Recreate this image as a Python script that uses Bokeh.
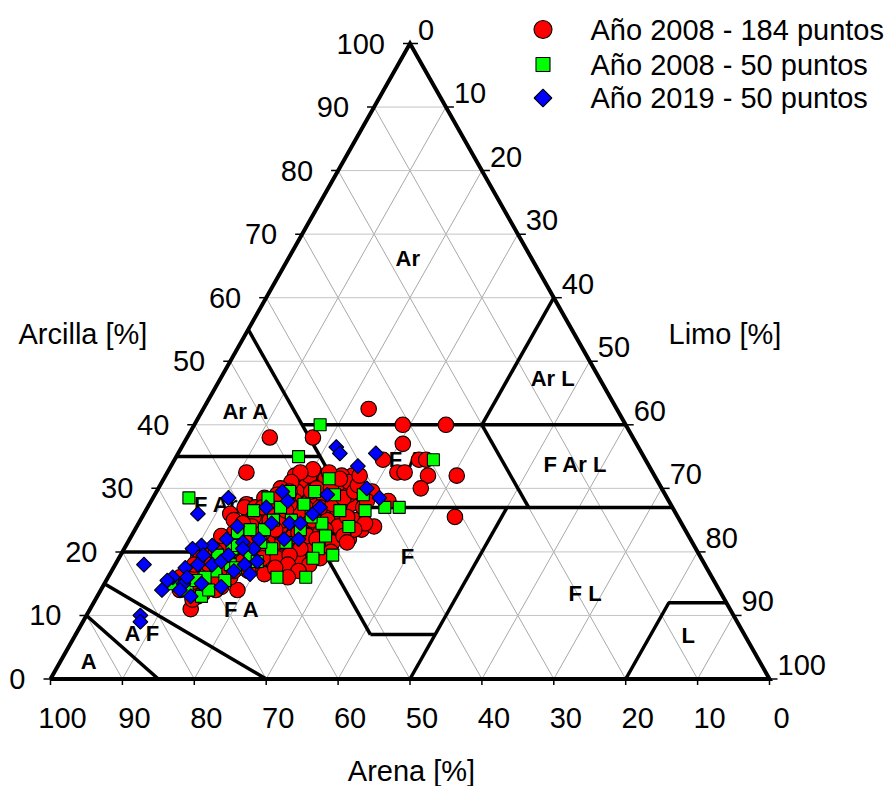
import numpy as np
from bokeh.plotting import figure
from bokeh.models import Range1d
from bokeh.core.properties import value
from bokeh.embed import file_html
from bokeh.resources import INLINE

# ---------------- data (percent sand / percent clay; silt = rest) ----------------
red_sand = [34.5, 31, 25, 50.5, 44.5, 32.5, 36.5, 31.5, 30.5, 35.5, 34.5, 31.5, 27.5, 33.5, 42, 40.5, 39, 31,
            45, 43, 48, 52.5, 56.5, 59, 62, 48.5, 47, 45.5, 43.5, 44, 47, 44.5, 45, 51, 52, 47.5, 49.5, 56.5,
            58.5, 56.5, 47, 45, 52.5, 47.5, 52, 56.5, 57.5, 56, 61.5, 67, 75, 59.5, 53,
            50, 49, 47, 46, 51, 48, 50, 46, 51, 44, 43, 48, 45, 50, 49, 52, 47, 45, 43, 44,
            55, 57, 54, 58, 56, 59, 53, 55, 58, 54, 56, 59, 57, 55, 53, 58, 52, 53, 56, 59, 54, 56, 57, 60, 60,
            61, 63, 62, 61, 64, 63, 62, 64, 65, 66, 67, 65, 66, 64, 68, 67, 62, 61, 63, 65,
            68, 70, 69, 71, 72, 70, 73, 74, 69, 72, 71, 73, 75, 70, 74,
            51, 52, 53, 50, 49, 48, 56, 55, 54, 53, 51, 50, 49, 47, 46, 55, 57, 58, 60, 61, 57, 59, 54, 52, 50,
            48, 46, 44, 47, 49, 51, 53, 54, 52, 45, 43, 42, 41, 42, 46, 48, 48, 51, 53, 55, 57, 59, 62, 66, 69, 67]
red_clay = [42.5, 40, 40, 38, 38, 37, 34.5, 34.5, 34.5, 32.5, 32.5, 32, 32, 30, 32, 29.5, 28, 25.5,
            23.5, 24, 22.5, 22, 32.5, 27.5, 26, 31, 32.5, 30.5, 32, 30.5, 30, 27.5, 28.5, 29, 28.5, 26.5, 26.5, 26,
            25.5, 23.5, 25, 24.5, 23, 22, 21.5, 20.5, 18.5, 17.5, 24, 14, 11, 27, 23.5,
            30, 31, 29, 31.5, 29.5, 28, 28, 27.5, 27, 29, 31, 32, 32.5, 32, 29.5, 28, 26, 25, 27, 24.5,
            26, 25, 24.5, 23, 22, 21.5, 26, 22.5, 20.5, 20, 24, 25.5, 21.5, 25, 24, 27, 25, 21, 19, 19, 28, 28.5, 27, 24, 21,
            22.5, 23, 25, 20, 21.5, 19.5, 18, 17, 20, 19, 18, 17.5, 21, 18.5, 19.5, 16, 16.5, 24.5, 21, 22.5,
            17, 16.5, 18, 15.5, 17, 19, 15, 16, 14.5, 13.5, 18, 13, 14, 14, 12.5,
            25, 26.5, 27.5, 26, 25, 24, 27, 28, 26.5, 22.5, 23, 23.5, 27, 27.5, 25.5, 20.5, 19.5, 18, 17.5, 19, 23.5, 23, 23, 22, 21.5,
            30, 30, 31.5, 33, 32.5, 31, 30, 29, 29.5, 28.5, 29.5, 30.5, 32, 28, 23.5, 22.5, 21.5, 20, 19, 18, 17, 16, 21.5, 17, 16, 20]

green_sand = [42.5, 48, 66.5, 29.5, 45.5, 42, 40, 38, 43, 46.5, 50, 55.5, 51, 54.5, 60.5, 62.5, 59, 52.5, 51, 60.5,
              56.5, 54, 66, 72.5, 64.5, 74, 68.5, 65.5, 75.5, 54, 60, 62.5, 67, 70.5, 53.5, 56.5, 58.5, 48.5, 46, 52,
              58.5, 63.5, 68, 71, 72, 46.5, 51, 56.5, 62, 50.5]
green_clay = [40, 35, 28.5, 34.5, 31.5, 29, 27, 27, 26.5, 24, 24.5, 28.5, 27.5, 27, 23.5, 23, 20.5, 20.5, 19.5, 16,
              16, 19, 18, 13, 20.5, 14, 17, 17.5, 15, 25, 21.5, 19.5, 19.5, 16, 23.5, 21.5, 26.5, 29.5, 29, 29.5,
              23.5, 21, 15.5, 14, 15.5, 26.5, 25.5, 25, 18.5, 22.5]

blue_sand = [42, 42, 37, 40.5, 41, 40, 47, 50.5, 53, 53, 61, 66.5, 57, 54.5, 53, 60, 56.5, 54.5, 64.5, 62.5,
             61.5, 67, 68.5, 70, 68.5, 67, 64, 70.5, 72.5, 64, 66, 75, 74, 71.5, 69, 74, 76, 78, 82.5, 83,
             73, 75, 63, 56.5, 62, 65.5, 77.5, 62, 69, 49]
blue_clay = [36.5, 35.5, 35.5, 33.5, 30, 28.5, 29, 26, 29.5, 28, 28.5, 26, 24.5, 24.5, 24.5, 22, 22, 22, 22, 21.5,
             20.5, 21, 21, 20.5, 18, 18.5, 18, 18, 17.5, 16.5, 17, 16, 15, 15, 14.5, 13, 15.5, 18, 10, 9,
             16, 14, 20.5, 27, 24, 19.5, 14, 18.5, 19.5, 27]

series_names = ["Año 2008 - 184 puntos", "Año 2008 - 50 puntos", "Año 2019 - 50 puntos"]

tick_values = [0, 10, 20, 30, 40, 50, 60, 70, 80, 90, 100]
axis_titles = ["Arcilla [%]", "Limo [%]", "Arena [%]"]

# USDA texture class boundaries, as (sand, clay) vertices
boundaries = [
    [(45, 55), (45, 27)],
    [(45, 40), (0, 40)],
    [(20, 40), (0, 60)],
    [(65, 35), (45, 35)],
    [(45, 27), (0, 27)],
    [(20, 40), (20, 27)],
    [(45, 27), (52, 20)],
    [(80, 20), (52, 20)],
    [(52, 20), (52, 7)],
    [(52, 7), (43, 7)],
    [(23, 27), (50, 0)],
    [(85, 15), (70, 0)],
    [(90, 10), (85, 0)],
    [(20, 0), (8, 12), (0, 12)],
]
class_names = ["Ar", "Ar L", "Ar A", "F Ar L", "F Ar", "F Ar A", "F", "F L", "L", "F A", "A F", "A"]
class_sand = [17.2, 6.5, 51.8, 10.1, 32.6, 61.7, 40.7, 18.9, 7.9, 67.9, 83.7, 93.3]
class_clay = [66.2, 47.3, 42.1, 33.8, 34.6, 27.5, 19.3, 13.5, 6.8, 11.0, 7.1, 2.8]

# ---------------- geometry ----------------
W, H = 896, 786
X0_PX, SX = 50.0, 7.19      # pixel of X=0 and pixels per unit
Y0_PX, SY = 678.5, 6.355    # pixel (from top) of clay=0 and pixels per unit

x_start = -X0_PX / SX
x_end = x_start + W / SX
y_end = Y0_PX / SY
y_start = y_end - H / SY


def tx(sand, clay):
    return 100.0 - np.asarray(sand, float) - np.asarray(clay, float) / 2.0


def ty(clay):
    return np.asarray(clay, float)


def px_x(px):
    return (px - X0_PX) / SX


def px_y(py):
    return (Y0_PX - py) / SY


FONT = value("Liberation Sans")

p = figure(width=W, height=H, x_range=Range1d(x_start, x_end), y_range=Range1d(y_start, y_end),
           output_backend="svg", toolbar_location=None, x_axis_location=None, y_axis_location=None,
           min_border=0, min_border_left=0, min_border_right=0, min_border_top=0, min_border_bottom=0)
p.grid.visible = False
p.outline_line_color = None
p.background_fill_color = "white"
p.border_fill_color = "white"

# grid lines
hx, hy, dx, dy = [], [], [], []
for k in range(10, 100, 10):
    hx.append([k / 2, 100 - k / 2]); hy.append([k, k])
    dx.append([100 - k, (100 - k) / 2]); dy.append([0, 100 - k])
    dx.append([k, 50 + k / 2]); dy.append([0, 100 - k])
p.multi_line(dx, dy, line_color="#a9a9a9", line_width=1)
p.multi_line(hx, hy, line_color="#c4c4c4", line_width=1)

# class boundaries
bx = [list(tx([s for s, c in b], [c for s, c in b])) for b in boundaries]
by = [list(ty([c for s, c in b])) for b in boundaries]
p.multi_line(bx, by, line_color="black", line_width=3.5)

# triangle outline
p.line(list(tx([100, 0, 0, 100], [0, 0, 100, 0])), list(ty([0, 0, 100, 0])),
       line_color="black", line_width=4, line_join="miter")

# class labels
p.text(x=tx(class_sand, class_clay), y=ty(class_clay), text=class_names, text_font=FONT,
       text_font_size="22px", text_font_style="bold", text_align="center", text_baseline="middle",
       text_color="black")

# data points
p.scatter(tx(red_sand, red_clay), ty(red_clay), marker="circle", size=15.5, fill_color="#ff0000",
          line_color="black", line_width=1.1)
p.scatter(tx(green_sand, green_clay), ty(green_clay), marker="square", size=12, fill_color="#00ff00",
          line_color="black", line_width=1.1)
p.scatter(tx(blue_sand, blue_clay), ty(blue_clay), marker="square", angle=np.pi / 4, size=10.5,
          fill_color="#0000ff", line_color="black", line_width=1.1)

# ticks
tv = np.array(tick_values, float)
lx = tx(100 - tv, tv); ly = ty(tv)                 # left edge (clay)
rx = tx(np.zeros_like(tv), 100 - tv); ry = ty(100 - tv)  # right edge (silt)
bxx = tx(tv, np.zeros_like(tv)); byy = np.zeros_like(tv)  # bottom (sand)
p.segment(lx, ly, lx - 7 / SX, ly, line_color="black", line_width=1.5)
p.segment(rx, ry, rx + 8 / SX, ry, line_color="black", line_width=1.5)
p.segment(bxx, byy, bxx, byy - 6 / SY, line_color="black", line_width=1.5)

labels = [str(v) for v in tick_values]
p.text(x=lx, y=ly, text=labels, text_font=FONT, text_font_size="29px", text_align="right",
       text_baseline="middle", x_offset=-25, text_color="black")
p.text(x=rx, y=ry, text=labels, text_font=FONT, text_font_size="29px", text_align="left",
       text_baseline="middle", x_offset=8, y_offset=-14, text_color="black")
p.text(x=bxx, y=byy, text=labels, text_font=FONT, text_font_size="29px", text_align="center",
       text_baseline="middle", x_offset=12, y_offset=39, text_color="black")

# axis titles
p.text(x=[px_x(18)], y=[px_y(333)], text=[axis_titles[0]], text_font=FONT, text_font_size="29px",
       text_align="left", text_baseline="middle", text_color="black")
p.text(x=[px_x(668)], y=[px_y(333)], text=[axis_titles[1]], text_font=FONT, text_font_size="29px",
       text_align="left", text_baseline="middle", text_color="black")
p.text(x=[px_x(411)], y=[px_y(770)], text=[axis_titles[2]], text_font=FONT, text_font_size="29px",
       text_align="center", text_baseline="middle", text_color="black")

# legend (manual)
leg_y = [29, 64, 97.5]
p.scatter([px_x(542.5)], [px_y(leg_y[0])], marker="circle", size=18, fill_color="#ff0000",
          line_color="black", line_width=1.1)
p.scatter([px_x(542.5)], [px_y(leg_y[1])], marker="square", size=14, fill_color="#00ff00",
          line_color="black", line_width=1.1)
p.scatter([px_x(542.5)], [px_y(leg_y[2])], marker="square", angle=np.pi / 4, size=12.5,
          fill_color="#0000ff", line_color="black", line_width=1.1)
p.text(x=[px_x(590)] * 3, y=[px_y(v) for v in leg_y], text=series_names, text_font=FONT,
       text_font_size="29px", text_align="left", text_baseline="middle", text_color="black")

open("out.html", "w").write(file_html(p, INLINE))
